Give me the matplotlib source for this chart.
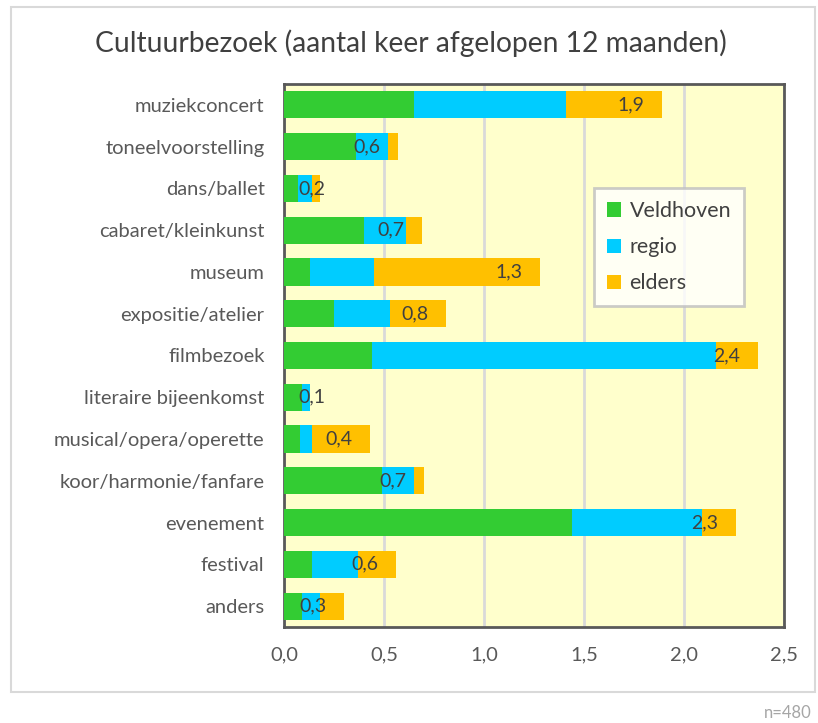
import matplotlib
matplotlib.use("Agg")
from matplotlib import pyplot as plt
from matplotlib.patches import Rectangle

categories = ["muziekconcert", "toneelvoorstelling", "dans/ballet", "cabaret/kleinkunst",
              "museum", "expositie/atelier", "filmbezoek", "literaire bijeenkomst",
              "musical/opera/operette", "koor/harmonie/fanfare", "evenement",
              "festival", "anders"]
veldhoven = [0.65, 0.36, 0.07, 0.40, 0.13, 0.25, 0.44, 0.09, 0.08, 0.49, 1.44, 0.14, 0.09]
regio = [0.76, 0.16, 0.07, 0.21, 0.32, 0.28, 1.72, 0.04, 0.06, 0.16, 0.65, 0.23, 0.09]
elders = [0.48, 0.05, 0.04, 0.08, 0.83, 0.28, 0.21, 0.00, 0.29, 0.05, 0.17, 0.19, 0.12]
series_names = ["Veldhoven", "regio", "elders"]
colors = ["#33CC33", "#00CCFF", "#FFC000"]
xticks = [0.0, 0.5, 1.0, 1.5, 2.0, 2.5]

cal = ["Lato", "DejaVu Sans"]

fig = plt.figure(figsize=(8.18, 7.23), dpi=100)
W, H = 818, 723

# outer chart border
fig.patches.append(Rectangle((11 / W, 1 - 692 / H), (815 - 11) / W, (692 - 7) / H,
                             transform=fig.transFigure, fill=False,
                             edgecolor="#D9D9D9", linewidth=1.5))

ax = fig.add_axes([284 / W, 1 - 627 / H, 500 / W, 543 / H])
ax.set_facecolor("#FFFFCC")

y = list(range(len(categories)))
left = [0.0] * len(categories)
for vals, name, c in zip([veldhoven, regio, elders], series_names, colors):
    ax.barh(y, vals, left=left, height=0.65, color=c, label=name, zorder=3)
    left = [l + v for l, v in zip(left, vals)]

# total labels, excel style: a bit inside the bar end, kept off the axis
for yi, tot in zip(y, left):
    ax.text(max(tot - 0.155, 0.14), yi, f"{tot:.1f}".replace(".", ","),
            ha="center", va="center", fontsize=14, color="#404040",
            family=cal, zorder=4)

ax.set_xlim(0, 2.5)
ax.set_ylim(len(categories) - 0.5, -0.5)
ax.set_xticks(xticks)
ax.set_xticklabels([f"{t:.1f}".replace(".", ",") for t in xticks],
                   family=cal, fontsize=14.5, color="#595959")
ax.set_yticks(y)
ax.set_yticklabels(categories, family=cal, fontsize=14.5, color="#595959")
ax.tick_params(axis="both", length=0, pad=14)
ax.xaxis.grid(True, color="#D9D9D9", linewidth=2, zorder=1)
ax.set_axisbelow(True)
for s in ax.spines.values():
    s.set_color("#595959")
    s.set_linewidth(2)

leg = ax.legend(loc="upper left", bbox_to_anchor=(0.62, 0.808), frameon=True,
                fancybox=False, prop={"family": cal, "size": 15.5},
                handlelength=0.65, handleheight=0.65, handletextpad=0.4,
                labelspacing=0.75, borderpad=0.6, borderaxespad=0)
leg.get_frame().set_edgecolor("#BFBFBF")
leg.get_frame().set_linewidth(2)
for t in leg.get_texts():
    t.set_color("#404040")

fig.text(411 / W, 1 - 43 / H, "Cultuurbezoek (aantal keer afgelopen 12 maanden)",
         ha="center", va="center", fontsize=20.3, color="#404040", family=cal)
fig.text(812 / W, 1 - 713 / H, "n=480", ha="right", va="center",
         fontsize=12, color="#A6A6A6", family=cal)

fig.savefig("out.png", dpi=100)
